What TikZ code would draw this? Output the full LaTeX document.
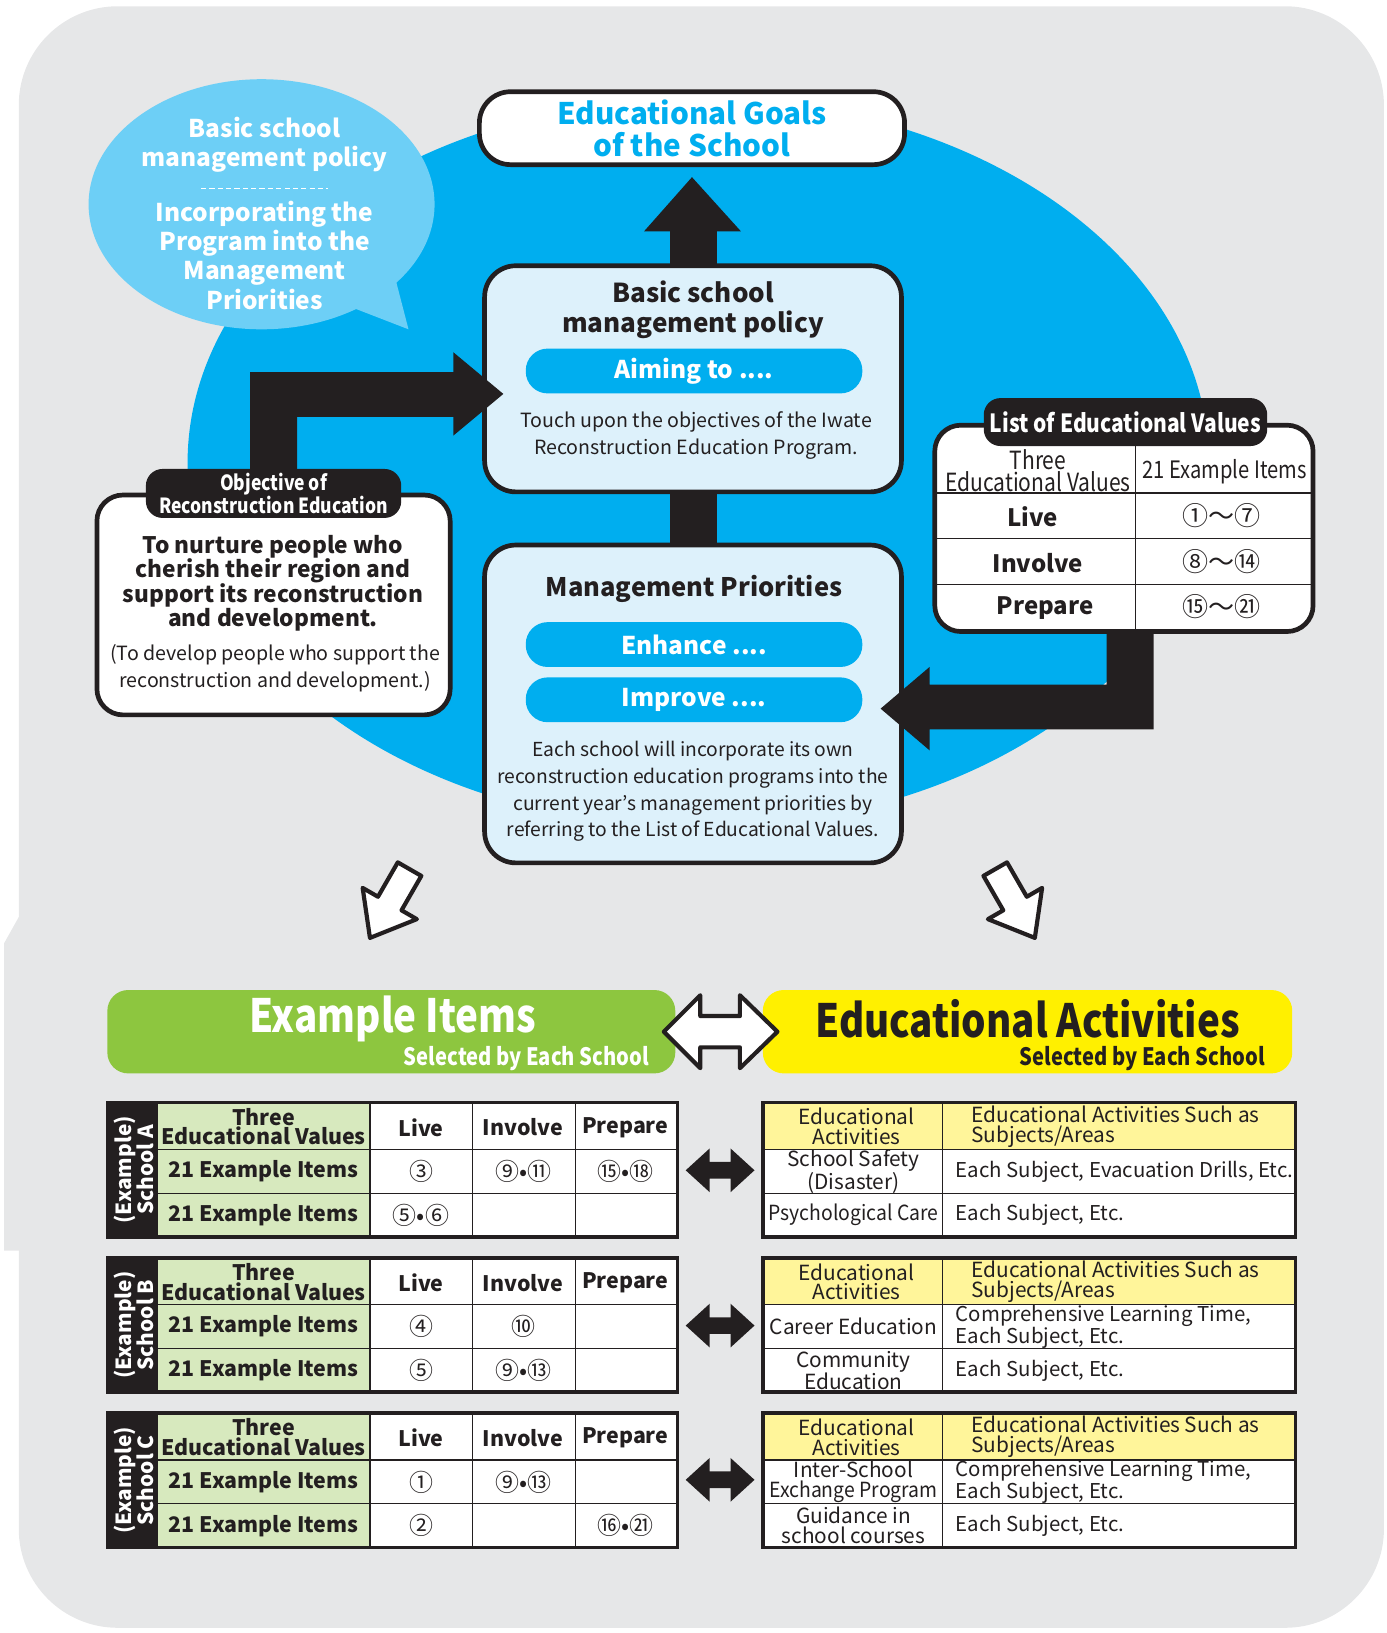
\documentclass[tikz,border=0pt]{standalone}
\usepackage{fontspec}
\setmainfont{Noto Sans CJK JP}
\newfontfamily\condf[FakeStretch=0.84]{Noto Sans CJK JP}
\newfontfamily\narf[FakeStretch=0.93]{Noto Sans CJK JP}
\newcommand\fz[2]{\fontsize{#1pt}{#2pt}\selectfont}
\newcommand\cn[1]{{\fontsize{23pt}{23pt}\selectfont #1}}
\usetikzlibrary{shapes.geometric}
\definecolor{bggray}{HTML}{E6E7E8}
\definecolor{cyanb}{HTML}{00AEEF}
\definecolor{bubblec}{HTML}{6DCFF6}
\definecolor{lightbox}{HTML}{DDF1FB}
\definecolor{ink}{HTML}{231F20}
\definecolor{greenh}{HTML}{8DC63F}
\definecolor{lgreen}{HTML}{D7E9BE}
\definecolor{yellowh}{HTML}{FFF000}
\definecolor{lyellow}{HTML}{FFF59A}
\tikzset{
  bigbox/.style={draw=ink, line width=4.5pt, rounded corners=30pt, inner sep=0pt},
  pillbox/.style={fill=cyanb, rounded corners=21pt, minimum width=323pt, minimum height=43pt, text=white, font=\bfseries\fz{23.5}{26}, inner sep=0pt},
  blackpill/.style={fill=ink, rounded corners=16pt, text=white, inner sep=0pt},
  txt/.style={inner sep=0pt, align=center, text=ink},
  gridline/.style={draw=ink, line width=1.1pt},
  tborder/.style={draw=ink, line width=3.5pt},
  blackarrow/.style={fill=ink},
  whitearrow/.style={fill=white, draw=ink, line width=4pt, line join=round},
}
\newcommand\lefttab[8]{%
\begin{scope}[shift={(0,#1)}]
  \fill[ink] (103,1058) rectangle (152,1187);
  \fill[lgreen] (152,1058) rectangle (355,1187);
  \fill[white] (355,1058) rectangle (650,1187);
  \draw[gridline] (152,1103) -- (650,1103) (152,1145) -- (650,1145)
     (355,1058) -- (355,1187) (453,1058) -- (453,1187) (552,1058) -- (552,1187);
  \draw[tborder] (103,1058) rectangle (650,1187);
  \node[txt, text=white, rotate=90, font=\bfseries\fz{20}{19}] (lab#2) at (128,1122.5) {(Example)\\School #2};
  \node[txt, font=\bfseries\fz{20.5}{19}] (hd#2) at (253,1081) {Three\\Educational Values};
  \node[txt, font=\bfseries\fz{20.5}{22}] (live#2) at (404,1082) {Live};
  \node[txt, font=\bfseries\fz{20.5}{22}] (inv#2) at (502,1082) {Involve};
  \node[txt, font=\bfseries\fz{20.5}{22}] (prep#2) at (600,1082) {Prepare};
  \node[txt, font=\bfseries\fz{20.5}{22}] (ra#2) at (253,1124) {21 Example Items};
  \node[txt, font=\bfseries\fz{20.5}{22}] (rb#2) at (253,1166) {21 Example Items};
  \node[txt, font=\fz{23}{23}] (a1#2) at (404,1124) {#3};
  \node[txt, font=\fz{23}{23}] (a2#2) at (502,1124) {#4};
  \node[txt, font=\fz{23}{23}] (a3#2) at (600,1124) {#5};
  \node[txt, font=\fz{23}{23}] (b1#2) at (404,1166) {#6};
  \node[txt, font=\fz{23}{23}] (b2#2) at (502,1166) {#7};
  \node[txt, font=\fz{23}{23}] (b3#2) at (600,1166) {#8};
\end{scope}}
\newcommand\righttab[6]{%
\begin{scope}[shift={(0,#1)}]
  \fill[lyellow] (732,1058) rectangle (1243,1103);
  \fill[white] (732,1103) rectangle (1243,1187);
  \draw[gridline] (732,1103) -- (1243,1103) (732,1145) -- (1243,1145) (904,1058) -- (904,1187);
  \draw[tborder] (732,1058) rectangle (1243,1187);
  \node[txt, font=\fz{20}{19}] (eh#2) at (822,1081) {Educational\\Activities};
  \node[txt, font=\fz{20}{19}, anchor=west, align=left] (sh#2) at (932,1081) {Educational Activities Such as\\Subjects/Areas};
  \node[txt, font=\fz{20}{19}] (c1#2) at (819,1124) {#3};
  \node[txt, font=\fz{19.6}{19}, anchor=west, align=left] (d1#2) at (917,1124) {#4};
  \node[txt, font=\fz{20}{19}] (c2#2) at (819,1166) {#5};
  \node[txt, font=\fz{19.6}{19}, anchor=west, align=left] (d2#2) at (917,1166) {#6};
\end{scope}}
\newcommand\smalldbl[1]{%
  \fill[ink] (658,#1) -- (681,#1-21) -- (681,#1-8) -- (701,#1-8) -- (701,#1-21) -- (724,#1)
     -- (701,#1+21) -- (701,#1+8) -- (681,#1+8) -- (681,#1+21) -- cycle;}
\begin{document}
\begin{tikzpicture}[x=1pt,y=-1pt]
\useasboundingbox (0,0) rectangle (1330,1567);
% background
\fill[bggray, rounded corners=95pt] (18,6) rectangle (1328,1562);
\fill[bggray] (4,905) -- (18,880) -- (40,880) -- (40,1200) -- (4,1200) -- cycle;
% big blue ellipse
\fill[cyanb] (670,444) ellipse [x radius=490pt, y radius=350pt];
% speech bubble
\node[ellipse, fill=bubblec, minimum width=332pt, minimum height=240pt, inner sep=0pt] (bubble) at (251,196) {};
\fill[bubblec] (330,292) -- (392,316) -- (378,262) -- cycle;
\node[txt, text=white, font=\bfseries\fz{23.5}{28}] (bub1) at (254,139) {Basic school\\management policy};
\draw[white, line width=1.5pt, dash pattern=on 5pt off 3pt] (193,181) -- (315,181);
\node[txt, text=white, font=\bfseries\fz{23.5}{28}] (bub2) at (254,245) {Incorporating the\\Program into the\\Management\\Priorities};
% goals
\node[bigbox, fill=white, minimum width=408pt, minimum height=70pt, text=cyanb, align=center, font=\bfseries\fz{28.5}{31}] (goals) at (664,123) {Educational Goals\\of the School};
% up arrow
\fill[blackarrow] (643,262) -- (643,222) -- (618,222) -- (664,170) -- (711,222) -- (688,222) -- (688,262) -- cycle;
% connector bar
\fill[ink] (643,468) rectangle (688,528);
% policy box
\node[bigbox, fill=lightbox, minimum width=400pt, minimum height=217pt] (policy) at (665,363.5) {};
\node[txt, font=\bfseries\fz{25}{29}] (poltitle) at (665,297.5) {Basic school\\management policy};
\node[pillbox] (aim) at (666,356) {Aiming to ....};
\node[txt, font=\fz{18.8}{26}] (poltext) at (668,418) {Touch upon the objectives of the Iwate\\Reconstruction Education Program.};
% management box
\node[bigbox, fill=lightbox, minimum width=400pt, minimum height=305pt] (mgmt) at (665,675.5) {};
\node[txt, font=\bfseries\fz{24.5}{28}] (mgtitle) at (666,565) {Management Priorities};
\node[pillbox] (enh) at (666,618.5) {Enhance ....};
\node[pillbox] (imp) at (666,671.5) {Improve ....};
\node[txt, font=\fz{18.5}{25.7}] (mgtext) at (665,759.5) {Each school will incorporate its own\\reconstruction education programs into the\\current year's management priorities by\\referring to the List of Educational Values.};
% left arrow
\fill[blackarrow] (240,462) -- (240,357) -- (435,357) -- (435,338) -- (483,378) -- (435,418) -- (435,400) -- (285,400) -- (285,462) -- cycle;
% objective box
\node[bigbox, fill=white, rounded corners=25pt, minimum width=339pt, minimum height=211pt] (objective) at (262.5,580.5) {};
\node[blackpill, minimum width=245pt, minimum height=47pt, align=center, font=\condf\bfseries\fz{20}{21}] (objlabel) at (262.5,473.5) {Objective of\\Reconstruction Education};
\node[txt, font=\bfseries\fz{21.8}{23}] (objmain) at (262,559.5) {To nurture people who\\cherish their region and\\support its reconstruction\\and development.};
\node[txt, font=\fz{18.8}{26}] (objparen) at (264,641) {(To develop people who support the\\reconstruction and development.)};
% right arrow
\fill[blackarrow] (1107,600) -- (1107,700) -- (892,700) -- (892,720) -- (845,680) -- (892,640) -- (892,657) -- (1062,657) -- (1062,600) -- cycle;
% list box
\node[bigbox, fill=white, rounded corners=25pt, minimum width=363pt, minimum height=198pt] (listbox) at (1078.5,507) {};
\draw[gridline] (897,473) -- (1260,473) (897,517) -- (1260,517) (897,561) -- (1260,561) (1090,428) -- (1090,606);
\node[blackpill, minimum width=272pt, minimum height=46pt, font=\condf\bfseries\fz{24}{24}] (listlabel) at (1080,405) {List of Educational Values};
\node[txt, font=\condf\fz{24}{21}] (lhd1) at (996,451.5) {Three\\Educational Values};
\node[txt, font=\condf\fz{23}{21}] (lhd2) at (1175,453) {21 Example Items};
\node[txt, font=\bfseries\fz{23}{23}] (llive) at (991,496) {Live};
\node[txt, font=\bfseries\fz{23}{23}] (linv) at (996,540) {Involve};
\node[txt, font=\bfseries\fz{23}{23}] (lprep) at (1003,583) {Prepare};
\node[txt, font=\fz{25}{25}] (lv1) at (1172,495) {①～⑦};
\node[txt, font=\fz{25}{25}] (lv2) at (1172,539) {⑧～⑭};
\node[txt, font=\fz{25}{25}] (lv3) at (1172,582) {⑮～㉑};
% down arrows
\filldraw[whitearrow] (404.3,840.5) -- (381.7,827.5) -- (362.7,860.5) -- (348,852) -- (355,900) -- (400,882) -- (385.3,873.5) -- cycle;
\filldraw[whitearrow] (943.7,840.5) -- (966.3,827.5) -- (985.3,860.5) -- (1000,852) -- (993,900) -- (948,882) -- (962.7,873.5) -- cycle;
% headers
\node[fill=greenh, rounded corners=20pt, minimum width=545pt, minimum height=80pt, inner sep=0pt] (exhead) at (375.5,990) {};
\node[txt, text=white, font=\condf\bfseries\fz{44}{44}] (exlabel) at (377,978) {Example Items};
\node[txt, text=white, font=\condf\bfseries\fz{23}{23}, anchor=east] (exsel) at (623,1016) {Selected by Each School};
\node[fill=yellowh, rounded corners=20pt, minimum width=508pt, minimum height=80pt, inner sep=0pt] (eahead) at (986,990) {};
\node[txt, font=\condf\bfseries\fz{44}{44}] (ealabel) at (986,978) {Educational Activities};
\node[txt, font=\condf\bfseries\fz{23}{23}, anchor=east] (easel) at (1214,1016) {Selected by Each School};
\filldraw[whitearrow] (637,990) -- (672,955) -- (672,975) -- (710,975) -- (710,955) -- (746,990) -- (710,1025) -- (710,1005) -- (672,1005) -- (672,1025) -- cycle;
% tables
\lefttab{0}{A}{③}{⑨•⑪}{⑮•⑱}{⑤•⑥}{}{}
\lefttab{149}{B}{④}{⑩}{}{⑤}{⑨•⑬}{}
\lefttab{298}{C}{①}{⑨•⑬}{}{②}{}{⑯•㉑}
\righttab{0}{A}{School Safety\\(Disaster)}{Each Subject, Evacuation Drills, Etc.}{\narf Psychological Care}{Each Subject, Etc.}
\righttab{149}{B}{Career Education}{Comprehensive Learning Time,\\Each Subject, Etc.}{Community\\Education}{Each Subject, Etc.}
\righttab{298}{C}{Inter-School\\{\narf Exchange Program}}{Comprehensive Learning Time,\\Each Subject, Etc.}{Guidance in\\school courses}{Each Subject, Etc.}
\smalldbl{1123}
\smalldbl{1272}
\smalldbl{1420}
\end{tikzpicture}
\end{document}
